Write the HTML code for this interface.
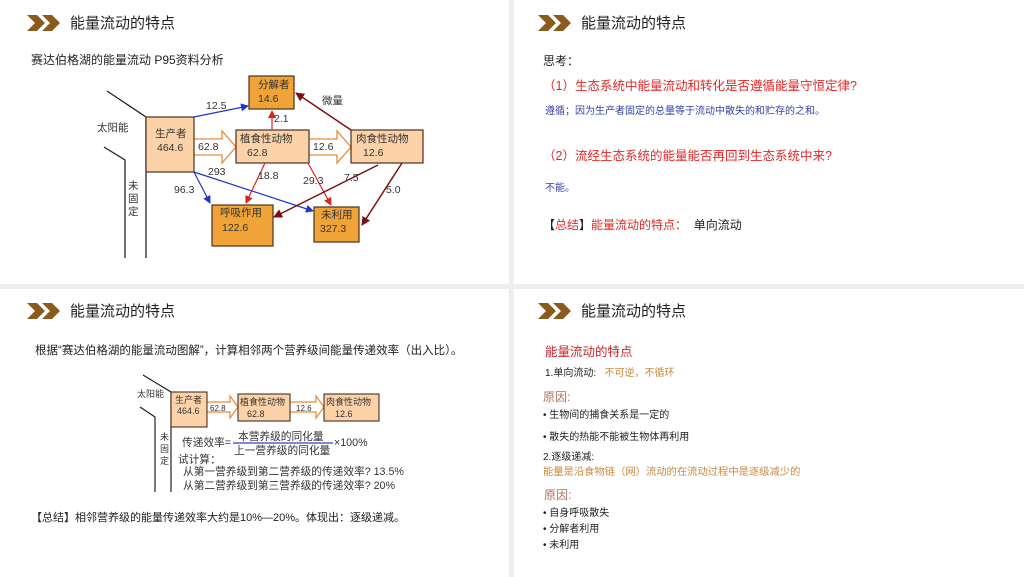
<!DOCTYPE html>
<html><head><meta charset="utf-8"><style>
body{margin:0;width:1024px;height:577px;background:#eceef0;position:relative;overflow:hidden;font-family:"Liberation Sans","Noto Sans CJK SC",sans-serif;color:#222}
.p{position:absolute;background:#fff}
.t{position:absolute;white-space:nowrap;line-height:1}
</style></head><body>
<div class="p" style="left:0;top:0;width:509px;height:284px"></div>
<div class="p" style="left:514px;top:0;width:510px;height:284px"></div>
<div class="p" style="left:0;top:289px;width:509px;height:288px"></div>
<div class="p" style="left:514px;top:289px;width:510px;height:288px"></div>

<svg width="1024" height="577" style="position:absolute;left:0;top:0" font-family="Liberation Sans,Noto Sans CJK SC,sans-serif">
<defs>
<marker id="ab" markerWidth="8" markerHeight="8" refX="7" refY="4" orient="auto" markerUnits="userSpaceOnUse"><path d="M0,0L8,4L0,8z" fill="#2233cc"/></marker>
<marker id="ar" markerWidth="8" markerHeight="8" refX="7" refY="4" orient="auto" markerUnits="userSpaceOnUse"><path d="M0,0L8,4L0,8z" fill="#e02020"/></marker>
<marker id="ad" markerWidth="9" markerHeight="9" refX="8" refY="4.5" orient="auto" markerUnits="userSpaceOnUse"><path d="M0,0L9,4.5L0,9z" fill="#7a1010"/></marker>
</defs>
<g fill="#8b5a1e">
<path d="M27,15h10l8,8l-8,8h-10l8,-8z"/><path d="M42,15h10l8,8l-8,8h-10l8,-8z"/>
<path d="M538,15h10l8,8l-8,8h-10l8,-8z"/><path d="M553,15h10l8,8l-8,8h-10l8,-8z"/>
<path d="M27,303h10l8,8l-8,8h-10l8,-8z"/><path d="M42,303h10l8,8l-8,8h-10l8,-8z"/>
<path d="M538,303h10l8,8l-8,8h-10l8,-8z"/><path d="M553,303h10l8,8l-8,8h-10l8,-8z"/>
</g>
<g stroke="#222" stroke-width="1.3" fill="none">
<path d="M107,91L146,117V258"/><path d="M104,147L125,160V258"/>
</g>
<g stroke="#e88a3a" stroke-width="1.3" fill="#fff">
<path d="M194,139H222V131L236,147L222,163V155H194"/>
<path d="M309,139H337V131L351,147L337,163V155H309"/>
</g>
<g stroke="#4a3020" stroke-width="1.2">
<rect x="146" y="117" width="48" height="55" fill="#fcd2a8"/>
<rect x="236" y="130" width="73" height="33" fill="#fcd2a8"/>
<rect x="351" y="130" width="72" height="33" fill="#fcd2a8"/>
<rect x="249" y="76" width="45" height="33" fill="#f0a336"/>
<rect x="212" y="205" width="61" height="41" fill="#f0a336"/>
<rect x="314" y="207" width="45" height="35" fill="#f0a336"/>
</g>
<g stroke-width="1.2" fill="none">
<path d="M194,117L248,106" stroke="#2233cc" marker-end="url(#ab)"/>
<path d="M194,172L210,203" stroke="#2233cc" marker-end="url(#ab)"/>
<path d="M194,172L313,211" stroke="#2233cc" marker-end="url(#ab)"/>
<path d="M272,130V111" stroke="#e02020" marker-end="url(#ar)"/>
<path d="M265,163L246,203" stroke="#e02020" marker-end="url(#ar)"/>
<path d="M308,163L331,205" stroke="#e02020" marker-end="url(#ar)"/>
<path d="M351,130L296,93" stroke="#7a1010" stroke-width="1.5" marker-end="url(#ad)"/>
<path d="M378,165L274,217" stroke="#7a1010" stroke-width="1.5" marker-end="url(#ad)"/>
<path d="M402,163L362,225" stroke="#7a1010" stroke-width="1.5" marker-end="url(#ad)"/>
</g>
<g font-size="10.5" fill="#333">
<text x="258" y="88">分解者</text><text x="258" y="102">14.6</text>
<text x="155" y="137">生产者</text><text x="157" y="151">464.6</text>
<text x="240" y="142">植食性动物</text><text x="247" y="156">62.8</text>
<text x="356" y="142">肉食性动物</text><text x="363" y="156">12.6</text>
<text x="220" y="216">呼吸作用</text><text x="222" y="231">122.6</text>
<text x="321" y="218">未利用</text><text x="320" y="232">327.3</text>
<text x="206" y="109">12.5</text><text x="322" y="104">微量</text>
<text x="274" y="122">2.1</text>
<text x="198" y="150">62.8</text><text x="313" y="150">12.6</text>
<text x="208" y="175">293</text><text x="174" y="193">96.3</text>
<text x="258" y="179">18.8</text><text x="303" y="184">29.3</text>
<text x="344" y="181">7.5</text><text x="386" y="193">5.0</text>
<text x="97" y="131">太阳能</text>
<text x="128" y="189">未</text><text x="128" y="202">固</text><text x="128" y="215">定</text>
</g>
<g stroke="#222" stroke-width="1.2" fill="none">
<path d="M143,375L171,392V492"/><path d="M140,407L155,417V492"/>
</g>
<g stroke="#e88a3a" stroke-width="1.2" fill="#fff">
<path d="M207,402H230V396L238,407L230,418V412H207"/>
<path d="M290,402H316V396L324,407L316,418V412H290"/>
</g>
<g stroke="#4a3020" stroke-width="1.1" fill="#fcd2a8">
<rect x="171" y="392" width="36" height="35"/>
<rect x="238" y="394" width="52" height="27"/>
<rect x="324" y="394" width="55" height="27"/>
</g>
<g font-size="9" fill="#333">
<text x="175" y="403">生产者</text><text x="177" y="414">464.6</text>
<text x="240" y="405">植食性动物</text><text x="247" y="417">62.8</text>
<text x="326" y="405">肉食性动物</text><text x="335" y="417">12.6</text>
<text x="210" y="411" font-size="8">62.8</text><text x="296" y="411" font-size="8">12.6</text>
<text x="137" y="397">太阳能</text>
<text x="160" y="440">未</text><text x="160" y="452">固</text><text x="160" y="464">定</text>
</g>
<line x1="233" y1="443" x2="333" y2="443" stroke="#3344bb" stroke-width="1.2"/>
<g font-size="10.7" fill="#333">
<text x="182" y="446">传递效率=</text>
<text x="238" y="440">本营养级的同化量</text>
<text x="234" y="454">上一营养级的同化量</text>
<text x="334" y="446">×100%</text>
<text x="178" y="463">试计算：</text>
<text x="183" y="475">从第一营养级到第二营养级的传递效率?  13.5%</text>
<text x="183" y="489">从第二营养级到第三营养级的传递效率?   20%</text>
</g>
</svg>

<div class="t" style="left:70px;top:16px;font-size:15px">能量流动的特点</div>
<div class="t" style="left:581px;top:16px;font-size:15px">能量流动的特点</div>
<div class="t" style="left:70px;top:304px;font-size:15px">能量流动的特点</div>
<div class="t" style="left:581px;top:304px;font-size:15px">能量流动的特点</div>

<div class="t" style="left:31px;top:54px;font-size:12px">赛达伯格湖的能量流动 P95资料分析</div>

<div class="t" style="left:543px;top:55px;font-size:12px">思考：</div>
<div class="t" style="left:543px;top:80px;font-size:12.5px;color:#e02828">（1）生态系统中能量流动和转化是否遵循能量守恒定律?</div>
<div class="t" style="left:545px;top:107px;font-size:10px;color:#3344aa">遵循；因为生产者固定的总量等于流动中散失的和贮存的之和。</div>
<div class="t" style="left:543px;top:150px;font-size:12.5px;color:#e02828">（2）流经生态系统的能量能否再回到生态系统中来?</div>
<div class="t" style="left:545px;top:184px;font-size:10px;color:#3344aa">不能。</div>
<div class="t" style="left:543px;top:219px;font-size:12px">【<span style="color:#e02828">总结</span>】<span style="color:#e02828">能量流动的特点：</span>&nbsp; 单向流动</div>

<div class="t" style="left:35px;top:346px;font-size:11.5px">根据“赛达伯格湖的能量流动图解”，计算相邻两个营养级间能量传递效率（出入比）。</div>
<div class="t" style="left:31px;top:513px;font-size:11px">【总结】相邻营养级的能量传递效率大约是10%—20%。体现出：逐级递减。</div>

<div class="t" style="left:545px;top:346px;font-size:12.5px;color:#c8262a">能量流动的特点</div>
<div class="t" style="left:545px;top:369px;font-size:10px">1.单向流动:&nbsp;&nbsp; <span style="color:#c98a40">不可逆，不循环</span></div>
<div class="t" style="left:543px;top:391px;font-size:12px;color:#b07060">原因:</div>
<div class="t" style="left:543px;top:411px;font-size:10px">• 生物间的捕食关系是一定的</div>
<div class="t" style="left:543px;top:433px;font-size:10px">• 散失的热能不能被生物体再利用</div>
<div class="t" style="left:543px;top:453px;font-size:10px">2.逐级递减:</div>
<div class="t" style="left:543px;top:468px;font-size:10.3px;color:#c98a40">能量是沿食物链（网）流动的在流动过程中是逐级减少的</div>
<div class="t" style="left:544px;top:489px;font-size:12px;color:#b07060">原因:</div>
<div class="t" style="left:543px;top:509px;font-size:10px">• 自身呼吸散失</div>
<div class="t" style="left:543px;top:525px;font-size:10px">• 分解者利用</div>
<div class="t" style="left:543px;top:541px;font-size:10px">• 未利用</div>
</body></html>
